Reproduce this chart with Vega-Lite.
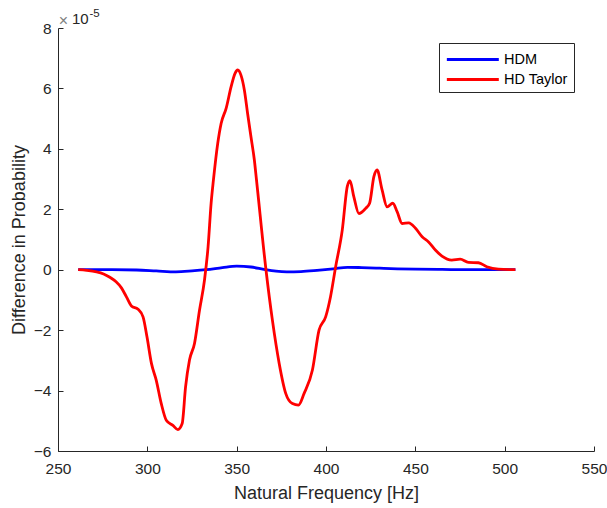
{
  "$schema": "https://vega.github.io/schema/vega-lite/v6.json",
  "width": 536,
  "height": 423,
  "autosize": {"type": "none"},
  "padding": {"left": 58, "top": 28, "right": 13, "bottom": 57},
  "background": "white",
  "config": {
    "font": "Liberation Sans",
    "view": {"stroke": null},
    "axis": {
      "domainColor": "#262626",
      "domainWidth": 1,
      "tickColor": "#262626",
      "tickWidth": 1,
      "tickSize": -5,
      "labelColor": "#262626",
      "labelFont": "Liberation Sans",
      "labelFontSize": 15.5,
      "titleColor": "#262626",
      "titleFont": "Liberation Sans",
      "titleFontSize": 18,
      "titleFontWeight": "normal",
      "grid": false,
      "labelFlush": false,
      "labelOverlap": false
    },
    "legend": {
      "labelFont": "Liberation Sans",
      "labelFontSize": 14.5,
      "labelColor": "#000000"
    }
  },
  "layer": [
    {
      "data": {"values": [
        {"f": 261.3, "v": 0, "series": "HDM"},
        {"f": 280, "v": 0, "series": "HDM"},
        {"f": 294, "v": -0.01, "series": "HDM"},
        {"f": 305, "v": -0.04, "series": "HDM"},
        {"f": 316, "v": -0.07, "series": "HDM"},
        {"f": 325, "v": -0.04, "series": "HDM"},
        {"f": 333, "v": 0, "series": "HDM"},
        {"f": 342, "v": 0.07, "series": "HDM"},
        {"f": 350, "v": 0.12, "series": "HDM"},
        {"f": 358, "v": 0.09, "series": "HDM"},
        {"f": 366, "v": 0, "series": "HDM"},
        {"f": 372, "v": -0.05, "series": "HDM"},
        {"f": 378, "v": -0.07, "series": "HDM"},
        {"f": 386, "v": -0.06, "series": "HDM"},
        {"f": 395, "v": -0.02, "series": "HDM"},
        {"f": 404, "v": 0.03, "series": "HDM"},
        {"f": 412, "v": 0.08, "series": "HDM"},
        {"f": 420, "v": 0.07, "series": "HDM"},
        {"f": 430, "v": 0.05, "series": "HDM"},
        {"f": 440, "v": 0.03, "series": "HDM"},
        {"f": 450, "v": 0.02, "series": "HDM"},
        {"f": 465, "v": 0.01, "series": "HDM"},
        {"f": 480, "v": 0, "series": "HDM"},
        {"f": 506, "v": 0, "series": "HDM"}
      ]},
      "mark": {"type": "line", "strokeWidth": 2.8, "interpolate": "monotone"},
      "encoding": {
        "x": {"field": "f", "type": "quantitative", "scale": {"domain": [250, 550], "nice": false},
          "axis": {"values": [250, 300, 350, 400, 450, 500, 550], "title": "Natural Frequency [Hz]", "labelPadding": 15, "titlePadding": 8}},
        "y": {"field": "v", "type": "quantitative", "scale": {"domain": [-6, 8], "nice": false},
          "axis": {"values": [-6, -4, -2, 0, 2, 4, 6, 8], "title": "Difference in Probability", "labelPadding": 12, "titlePadding": 5}},
        "color": {"field": "series", "type": "nominal",
          "scale": {"domain": ["HDM", "HD Taylor"], "range": ["#0000ff", "#ff0000"]},
          "legend": {"title": null, "orient": "none", "legendX": 381, "legendY": 15,
            "symbolType": "M-1,0H5", "symbolSize": 300, "symbolStrokeWidth": 3,
            "labelOffset": 38, "rowPadding": 3, "padding": 6,
            "strokeColor": "#262626", "fillColor": "white"}}
      }
    },
    {
      "data": {"values": [
        {"f": 261.3, "v": 0, "series": "HD Taylor"},
        {"f": 266, "v": -0.02, "series": "HD Taylor"},
        {"f": 271.6, "v": -0.07, "series": "HD Taylor"},
        {"f": 275.5, "v": -0.14, "series": "HD Taylor"},
        {"f": 279, "v": -0.25, "series": "HD Taylor"},
        {"f": 282.5, "v": -0.4, "series": "HD Taylor"},
        {"f": 285.5, "v": -0.6, "series": "HD Taylor"},
        {"f": 288.3, "v": -0.9, "series": "HD Taylor"},
        {"f": 291.1, "v": -1.2, "series": "HD Taylor"},
        {"f": 294.8, "v": -1.31, "series": "HD Taylor"},
        {"f": 297.6, "v": -1.56, "series": "HD Taylor"},
        {"f": 299.8, "v": -2.22, "series": "HD Taylor"},
        {"f": 302.3, "v": -3.1, "series": "HD Taylor"},
        {"f": 305, "v": -3.66, "series": "HD Taylor"},
        {"f": 307.8, "v": -4.43, "series": "HD Taylor"},
        {"f": 310.6, "v": -4.98, "series": "HD Taylor"},
        {"f": 314.3, "v": -5.15, "series": "HD Taylor"},
        {"f": 317.1, "v": -5.29, "series": "HD Taylor"},
        {"f": 319.5, "v": -5.09, "series": "HD Taylor"},
        {"f": 321.4, "v": -3.88, "series": "HD Taylor"},
        {"f": 323.6, "v": -2.99, "series": "HD Taylor"},
        {"f": 326.4, "v": -2.44, "series": "HD Taylor"},
        {"f": 329.2, "v": -1.34, "series": "HD Taylor"},
        {"f": 332, "v": -0.34, "series": "HD Taylor"},
        {"f": 334, "v": 0.76, "series": "HD Taylor"},
        {"f": 335.7, "v": 2.2, "series": "HD Taylor"},
        {"f": 337, "v": 2.97, "series": "HD Taylor"},
        {"f": 339.4, "v": 4.18, "series": "HD Taylor"},
        {"f": 341.3, "v": 4.84, "series": "HD Taylor"},
        {"f": 344.1, "v": 5.34, "series": "HD Taylor"},
        {"f": 346.9, "v": 6.06, "series": "HD Taylor"},
        {"f": 349.1, "v": 6.5, "series": "HD Taylor"},
        {"f": 350.6, "v": 6.61, "series": "HD Taylor"},
        {"f": 352.4, "v": 6.44, "series": "HD Taylor"},
        {"f": 354.3, "v": 5.95, "series": "HD Taylor"},
        {"f": 356.1, "v": 5.18, "series": "HD Taylor"},
        {"f": 358, "v": 4.4, "series": "HD Taylor"},
        {"f": 359.9, "v": 3.63, "series": "HD Taylor"},
        {"f": 361.1, "v": 2.97, "series": "HD Taylor"},
        {"f": 366.4, "v": 0, "series": "HD Taylor"},
        {"f": 370, "v": -1.67, "series": "HD Taylor"},
        {"f": 373.8, "v": -3.1, "series": "HD Taylor"},
        {"f": 377.5, "v": -4.1, "series": "HD Taylor"},
        {"f": 381.2, "v": -4.43, "series": "HD Taylor"},
        {"f": 384.6, "v": -4.48, "series": "HD Taylor"},
        {"f": 387.7, "v": -4.1, "series": "HD Taylor"},
        {"f": 392.4, "v": -3.32, "series": "HD Taylor"},
        {"f": 396.1, "v": -2.0, "series": "HD Taylor"},
        {"f": 399.8, "v": -1.56, "series": "HD Taylor"},
        {"f": 402.5, "v": -0.9, "series": "HD Taylor"},
        {"f": 405.4, "v": 0.1, "series": "HD Taylor"},
        {"f": 409.1, "v": 1.31, "series": "HD Taylor"},
        {"f": 411.9, "v": 2.75, "series": "HD Taylor"},
        {"f": 413.4, "v": 2.95, "series": "HD Taylor"},
        {"f": 415.6, "v": 2.41, "series": "HD Taylor"},
        {"f": 418.4, "v": 1.86, "series": "HD Taylor"},
        {"f": 422.2, "v": 2.03, "series": "HD Taylor"},
        {"f": 424.4, "v": 2.2, "series": "HD Taylor"},
        {"f": 426.8, "v": 3.08, "series": "HD Taylor"},
        {"f": 428.6, "v": 3.3, "series": "HD Taylor"},
        {"f": 431.4, "v": 2.64, "series": "HD Taylor"},
        {"f": 434.2, "v": 2.08, "series": "HD Taylor"},
        {"f": 437.4, "v": 2.2, "series": "HD Taylor"},
        {"f": 439.8, "v": 1.92, "series": "HD Taylor"},
        {"f": 442.6, "v": 1.53, "series": "HD Taylor"},
        {"f": 446.3, "v": 1.55, "series": "HD Taylor"},
        {"f": 450.1, "v": 1.37, "series": "HD Taylor"},
        {"f": 453.8, "v": 1.09, "series": "HD Taylor"},
        {"f": 457.4, "v": 0.92, "series": "HD Taylor"},
        {"f": 461.2, "v": 0.65, "series": "HD Taylor"},
        {"f": 464.9, "v": 0.45, "series": "HD Taylor"},
        {"f": 470.4, "v": 0.32, "series": "HD Taylor"},
        {"f": 475.1, "v": 0.35, "series": "HD Taylor"},
        {"f": 479.7, "v": 0.24, "series": "HD Taylor"},
        {"f": 485.3, "v": 0.23, "series": "HD Taylor"},
        {"f": 490, "v": 0.1, "series": "HD Taylor"},
        {"f": 496.5, "v": 0.02, "series": "HD Taylor"},
        {"f": 506, "v": 0, "series": "HD Taylor"}
      ]},
      "mark": {"type": "line", "strokeWidth": 2.8, "interpolate": "monotone"},
      "encoding": {
        "x": {"field": "f", "type": "quantitative"},
        "y": {"field": "v", "type": "quantitative"},
        "color": {"field": "series", "type": "nominal"}
      }
    },
    {
      "data": {"values": [{"label": "×"}]},
      "mark": {"type": "text", "align": "center", "baseline": "middle", "dx": 5.5, "dy": -7, "fontSize": 16, "color": "#808080"},
      "encoding": {"x": {"datum": 250}, "y": {"datum": 8}, "text": {"field": "label"}}
    },
    {
      "data": {"values": [{"label": "10"}]},
      "mark": {"type": "text", "align": "left", "baseline": "alphabetic", "dx": 14, "dy": -4, "fontSize": 15, "color": "#262626"},
      "encoding": {"x": {"datum": 250}, "y": {"datum": 8}, "text": {"field": "label"}}
    },
    {
      "data": {"values": [{"label": "-5"}]},
      "mark": {"type": "text", "align": "left", "baseline": "alphabetic", "dx": 31.5, "dy": -11, "fontSize": 11.5, "color": "#262626"},
      "encoding": {"x": {"datum": 250}, "y": {"datum": 8}, "text": {"field": "label"}}
    }
  ]
}
